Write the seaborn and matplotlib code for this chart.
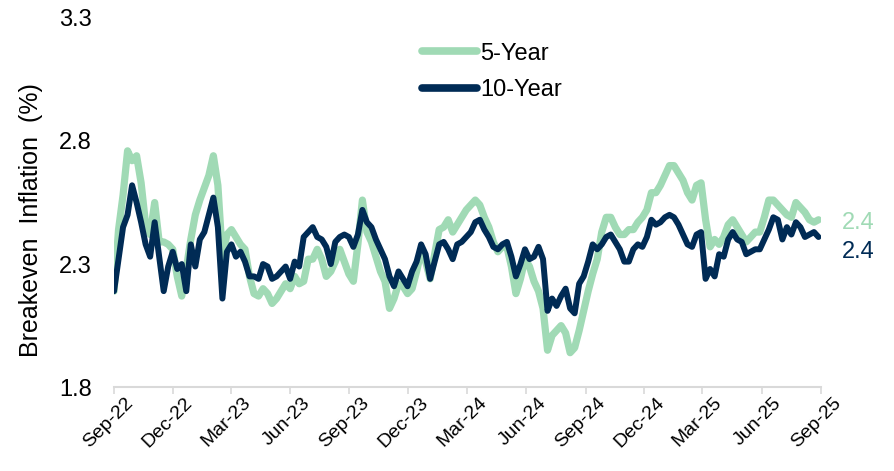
import numpy as np
import pandas as pd
import matplotlib
matplotlib.use("Agg")
import matplotlib.pyplot as plt
import matplotlib.dates as mdates
import matplotlib.transforms as mtransforms
import seaborn as sns

# ====================== DATA (weekly) ======================
start_date = "2022-09-01"

be_5y = [2.19, 2.44, 2.58, 2.76, 2.72, 2.74, 2.63, 2.46, 2.42, 2.55,
         2.39, 2.39, 2.38, 2.36, 2.25, 2.17, 2.28, 2.40, 2.50, 2.56,
         2.61, 2.66, 2.74, 2.62, 2.33, 2.42, 2.44, 2.41, 2.38, 2.36,
         2.25, 2.18, 2.17, 2.20, 2.18, 2.14, 2.16, 2.19, 2.22, 2.20,
         2.25, 2.22, 2.23, 2.32, 2.32, 2.36, 2.32, 2.25, 2.27, 2.31,
         2.36, 2.31, 2.26, 2.23, 2.38, 2.56, 2.43, 2.39, 2.33, 2.27,
         2.23, 2.12, 2.16, 2.22, 2.21, 2.18, 2.20, 2.27, 2.35, 2.31,
         2.24, 2.34, 2.44, 2.45, 2.48, 2.43, 2.46, 2.49, 2.52, 2.54,
         2.56, 2.54, 2.49, 2.45, 2.39, 2.35, 2.37, 2.37, 2.29, 2.18,
         2.24, 2.32, 2.29, 2.23, 2.19, 2.12, 1.95, 2.01, 2.03, 2.05,
         2.02, 1.94, 1.96, 2.03, 2.11, 2.19, 2.26, 2.32, 2.43, 2.49,
         2.49, 2.45, 2.42, 2.42, 2.44, 2.44, 2.47, 2.49, 2.52, 2.59,
         2.59, 2.62, 2.66, 2.70, 2.70, 2.67, 2.64, 2.59, 2.56, 2.62,
         2.63, 2.48, 2.37, 2.40, 2.38, 2.41, 2.46, 2.48, 2.45, 2.42,
         2.39, 2.41, 2.43, 2.43, 2.49, 2.56, 2.56, 2.54, 2.52, 2.50,
         2.49, 2.55, 2.53, 2.51, 2.48, 2.47, 2.48]

be_10y = [2.19, 2.32, 2.45, 2.50, 2.62, 2.55, 2.47, 2.38, 2.33, 2.47,
          2.33, 2.19, 2.29, 2.35, 2.28, 2.30, 2.19, 2.38, 2.29, 2.40,
          2.43, 2.50, 2.57, 2.45, 2.16, 2.35, 2.38, 2.33, 2.35, 2.31,
          2.25, 2.25, 2.24, 2.30, 2.29, 2.24, 2.25, 2.27, 2.29, 2.24,
          2.31, 2.29, 2.41, 2.43, 2.45, 2.41, 2.40, 2.37, 2.30, 2.39,
          2.41, 2.42, 2.41, 2.37, 2.42, 2.52, 2.47, 2.45, 2.40, 2.36,
          2.32, 2.25, 2.21, 2.27, 2.24, 2.21, 2.27, 2.31, 2.38, 2.34,
          2.24, 2.31, 2.38, 2.39, 2.36, 2.32, 2.38, 2.39, 2.41, 2.43,
          2.47, 2.48, 2.44, 2.41, 2.37, 2.36, 2.38, 2.39, 2.33, 2.25,
          2.30, 2.36, 2.32, 2.33, 2.37, 2.32, 2.11, 2.16, 2.13, 2.17,
          2.20, 2.12, 2.10, 2.22, 2.25, 2.31, 2.38, 2.36, 2.38, 2.41,
          2.42, 2.39, 2.36, 2.31, 2.31, 2.36, 2.38, 2.37, 2.41, 2.48,
          2.46, 2.47, 2.49, 2.50, 2.49, 2.46, 2.42, 2.38, 2.37, 2.42,
          2.43, 2.24, 2.28, 2.25, 2.34, 2.33, 2.40, 2.43, 2.40, 2.39,
          2.34, 2.35, 2.36, 2.36, 2.40, 2.44, 2.49, 2.48, 2.40, 2.45,
          2.42, 2.47, 2.45, 2.41, 2.42, 2.43, 2.41]

series_names = ["5-Year", "10-Year"]
series_colors = ["#a0dab5", "#002b55"]
end_labels = ["2.4", "2.4"]
y_ticks = [1.8, 2.3, 2.8, 3.3]

dates = pd.date_range(start_date, periods=len(be_5y), freq="7D")
df = pd.DataFrame({"Date": dates, series_names[0]: be_5y, series_names[1]: be_10y})
df_long = df.melt(id_vars="Date", var_name="Series", value_name="Breakeven")

# ====================== PLOT ======================
sns.set_theme(style="white")
plt.rcParams["font.family"] = ["Liberation Sans", "DejaVu Sans"]
plt.rcParams["text.color"] = "#000000"

fig = plt.figure(figsize=(8.95, 4.71), dpi=100)
ax = fig.add_axes([0.1274, 0.178, 0.79, 0.784])

palette = dict(zip(series_names, series_colors))
sns.lineplot(data=df_long, x="Date", y="Breakeven", hue="Series",
             palette=palette, ax=ax, legend=False)
ax.lines[0].set_linewidth(5.2)
ax.lines[1].set_linewidth(4.3)
for ln in ax.lines:
    ln.set_solid_joinstyle("round")
    ln.set_solid_capstyle("round")

ax.set_ylim(1.8, 3.3)
ax.set_yticks(y_ticks)
ax.set_yticklabels([f"{t:.1f}" for t in y_ticks], fontsize=17, color="#000000")
ax.set_xlim(pd.Timestamp("2022-09-01"), pd.Timestamp("2025-09-01"))
ax.xaxis.set_major_locator(mdates.MonthLocator(bymonth=[3, 6, 9, 12]))
ax.xaxis.set_major_formatter(mdates.DateFormatter("%b-%y"))

ax.set_xlabel("")
ax.set_ylabel("Breakeven  Inflation  (%)", fontsize=18, color="#000000")
ax.yaxis.set_label_coords(-0.10, 0.453)

for side in ["top", "right", "left"]:
    ax.spines[side].set_visible(False)
ax.spines["bottom"].set_color("#d9d9d9")
ax.spines["bottom"].set_linewidth(1.5)
ax.tick_params(axis="x", which="major", direction="out", length=5, width=1.2,
               color="#d9d9d9", pad=3, bottom=True)
ax.tick_params(axis="y", length=0, pad=16)

# rotate and nudge the date labels (after a draw so all ticks exist)
fig.canvas.draw()
shift = mtransforms.ScaledTranslation(8 / 72, 3 / 72, fig.dpi_scale_trans)
for lab in ax.get_xticklabels():
    lab.set_rotation(45)
    lab.set_ha("right")
    lab.set_rotation_mode("anchor")
    lab.set_fontsize(14)
    lab.set_color("#000000")
    lab.set_transform(lab.get_transform() + shift)

# legend
handles = [plt.Line2D([], [], color=c, lw=5.5, solid_capstyle="round") for c in series_colors]
leg = ax.legend(handles, series_names, loc="center", bbox_to_anchor=(0.535, 0.854),
                frameon=False, fontsize=17, handlelength=2.3, labelspacing=0.6,
                handletextpad=0.15)
for t in leg.get_texts():
    t.set_color("#000000")

# end labels
ax.annotate(end_labels[0], xy=(dates[-1], be_5y[-1]), xytext=(17, -2),
            textcoords="offset points", va="center", ha="left",
            fontsize=17, color=series_colors[0])
ax.annotate(end_labels[1], xy=(dates[-1], be_10y[-1]), xytext=(17, -11),
            textcoords="offset points", va="center", ha="left",
            fontsize=17, color=series_colors[1])

fig.savefig("out.png", dpi=100)
